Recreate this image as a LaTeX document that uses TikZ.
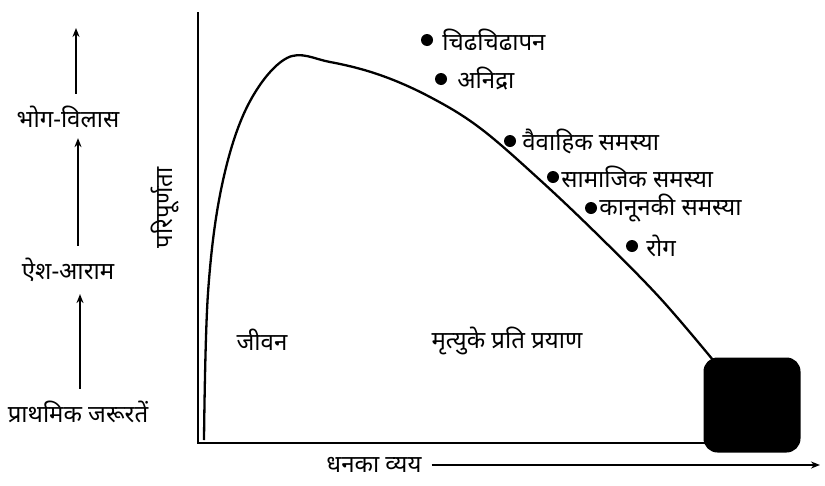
\documentclass[tikz,border=0pt]{standalone}
\usepackage{fontspec}
\newfontfamily\hindi[Script=Devanagari]{Noto Sans}
\usetikzlibrary{arrows.meta,positioning}
\begin{document}
\begin{tikzpicture}[x=1pt,y=-1pt,
  lbl/.style={font=\hindi\fontsize{24}{28}\selectfont, inner sep=0pt},
  upar/.style={-{Stealth[length=9pt,width=7pt]}, line width=2.2pt},
  bindu/.style={circle, fill=black, inner sep=0pt, minimum size=12pt}]
  \useasboundingbox (0,0) rectangle (825,485);
  % Aksh
  \coordinate (ytop) at (198,12);
  \coordinate (org) at (198,443);
  \coordinate (xr) at (712,443);
  \draw[line width=2pt] (ytop) -- (org) -- (xr);
  \node[fill=black, rounded corners=14pt, minimum width=97pt, minimum height=95pt] (kala) at (752,405) {};
  % Vakra
  \draw[line width=2.3pt] plot[smooth, tension=0.6] coordinates {
    (204,440) (208,293) (222,185) (248,105) (287,58) (330,62) (380,75)
    (430,97) (480,128) (540,180) (600,237) (660,298) (713,360)
  };
  % Bindu
  \node[bindu] (b1) at (427,40) {};
  \node[lbl, right=9pt of b1] (t1) {चिढचिढापन};
  \node[bindu] (b2) at (441,79) {};
  \node[lbl, right=10pt of b2] (t2) {अनिद्रा};
  \node[bindu] (b3) at (510,141) {};
  \node[lbl, right=6pt of b3] (t3) {वैवाहिक समस्या};
  \node[bindu] (b4) at (553,177) {};
  \node[lbl, right=2pt of b4] (t4) {सामाजिक समस्या};
  \node[bindu] (b5) at (591,208) {};
  \node[lbl, right=2pt of b5] (t5) {कानूनकी समस्या};
  \node[bindu] (b6) at (632,246) {};
  \node[lbl, right=8pt of b6] (t6) {रोग};
  % Chhetra
  \node[lbl] (jeevan) at (262,340) {जीवन};
  \node[lbl] (mrityu) at (507,341) {मृत्युके प्रति प्रयाण};
  \node[lbl, rotate=90] (yl) at (165,208) {परिपूर्णता};
  \node[lbl] (dhan) at (374,465) {धनका व्यय};
  \coordinate (xend) at (820,465);
  \draw[upar] ([xshift=10pt]dhan.east) -- (xend);
  % Sidhi
  \node[lbl] (bhog) at (68,117) {भोग-विलास};
  \node[lbl] (aish) at (68,270) {ऐश-आराम};
  \node[lbl] (prath) at (78,412) {प्राथमिक जरूरतें};
  \coordinate (upr) at (78,28);
  \draw[upar, shorten <=12pt, shorten >=12pt] (prath.north -| 80,0) -- (aish.south -| 80,0);
  \draw[upar, shorten <=12pt, shorten >=10pt] (aish.north -| 78,0) -- (bhog.south -| 78,0);
  \draw[upar, shorten <=12pt] (bhog.north -| 76,0) -- (upr -| 76,0);
\end{tikzpicture}
\end{document}
